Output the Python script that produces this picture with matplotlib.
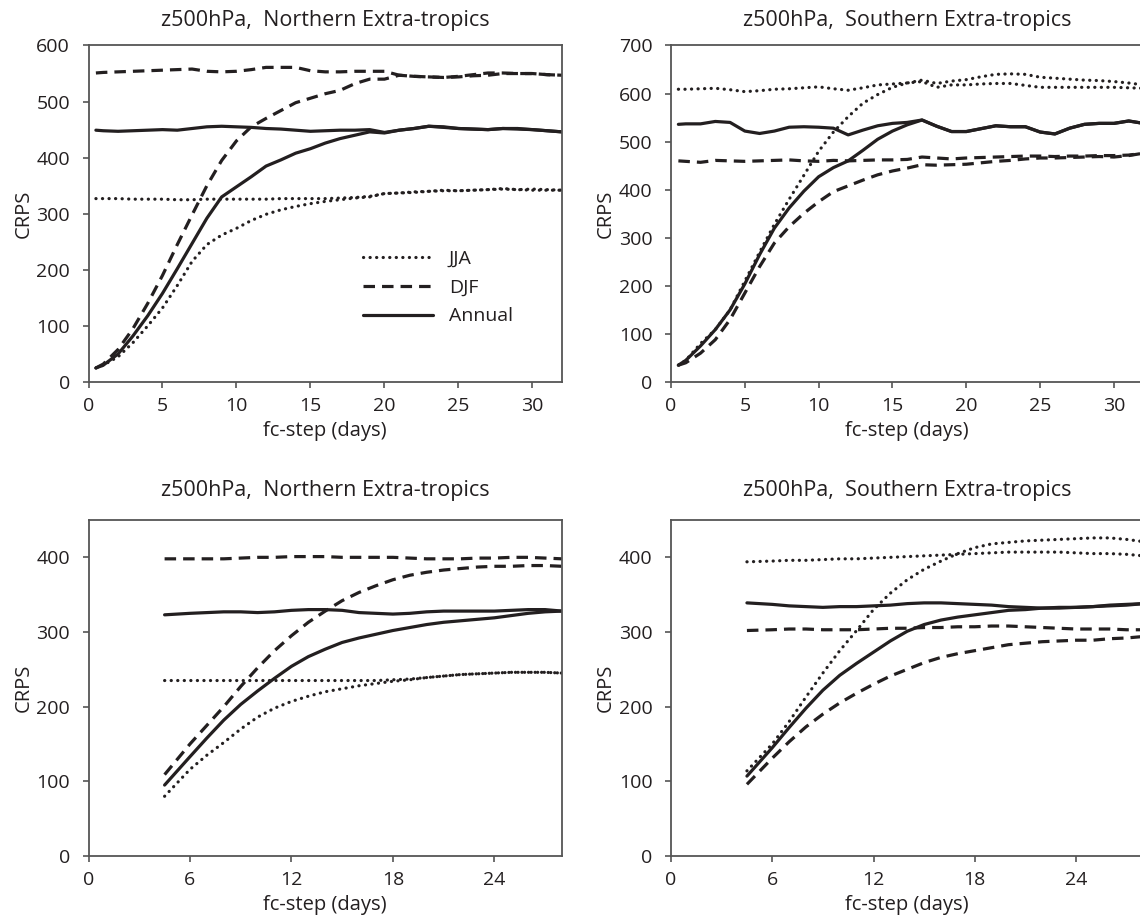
import matplotlib
matplotlib.use("Agg")
import matplotlib.pyplot as plt

plt.rcParams['font.family'] = ['Open Sans', 'DejaVu Sans']

INK = '#231f20'
AXC = '#555555'

# ---------------- top left: Northern extra-tropics (days 0.5..32)
n1_x = [0.5, 1, 2, 3, 4, 5, 6, 7, 8, 9, 10, 11, 12, 13, 14, 15, 16, 17, 18, 19, 20,
        21, 22, 23, 24, 25, 26, 27, 28, 29, 30, 31, 32]
n1_jja_flat = [327, 327, 327, 326, 326, 326, 325, 325, 326, 326, 326, 326, 326, 327, 327, 327, 327,
               328, 329, 331, 336, 337, 338, 340, 341, 341, 342, 343, 344, 343, 344, 343, 342]
n1_jja_rise = [25, 30, 45, 70, 100, 132, 172, 215, 245, 262, 274, 288, 299, 307, 313, 318, 322,
               325, 328, 330, 336, 337, 339, 340, 342, 341, 342, 343, 345, 343, 342, 342, 342]
n1_djf_flat = [551, 552, 553, 554, 555, 556, 557, 558, 554, 553, 554, 557, 561, 561, 561, 555, 553,
               553, 554, 554, 554, 547, 545, 544, 543, 545, 548, 551, 551, 550, 550, 548, 547]
n1_djf_rise = [25, 32, 58, 95, 140, 190, 245, 298, 350, 395, 430, 455, 470, 484, 498, 506, 514,
               520, 532, 540, 540, 547, 545, 544, 543, 544, 546, 547, 550, 550, 550, 548, 547]
n1_ann_flat = [449, 448, 447, 448, 449, 450, 449, 452, 455, 456, 455, 454, 452, 451, 449, 447, 448,
               449, 449, 450, 445, 449, 452, 456, 455, 452, 451, 450, 452, 452, 450, 448, 446]
n1_ann_rise = [25, 30, 50, 82, 118, 158, 202, 247, 292, 330, 348, 366, 385, 396, 408, 416, 426,
               434, 440, 446, 444, 449, 452, 456, 454, 452, 451, 450, 452, 451, 450, 448, 446]

# ---------------- top right: Southern extra-tropics (days 0.5..32)
s1_x = n1_x
s1_jja_flat = [609, 609, 610, 611, 608, 604, 606, 609, 610, 612, 614, 610, 607, 612, 618, 620, 622,
               625, 613, 618, 618, 620, 621, 621, 617, 613, 613, 613, 613, 613, 613, 612, 611]
s1_jja_rise = [35, 45, 80, 109, 150, 210, 270, 328, 380, 430, 480, 520, 552, 580, 598, 613, 622,
               628, 621, 626, 629, 635, 640, 641, 640, 634, 632, 630, 628, 627, 625, 622, 618]
s1_ann_flat = [536, 537, 537, 542, 540, 522, 517, 522, 530, 531, 530, 528, 514, 524, 533, 538, 540,
               545, 532, 521, 521, 527, 533, 531, 531, 520, 516, 528, 536, 538, 538, 543, 538]
s1_ann_rise = [35, 45, 75, 109, 150, 204, 265, 320, 362, 397, 427, 446, 460, 482, 505, 522, 535,
               545, 532, 521, 521, 527, 533, 531, 531, 520, 516, 528, 536, 538, 538, 543, 538]
s1_djf_flat = [460, 459, 457, 461, 460, 459, 460, 461, 462, 460, 459, 461, 460, 461, 462, 462, 463,
               468, 466, 464, 466, 467, 468, 469, 470, 470, 469, 470, 470, 471, 471, 472, 476]
s1_djf_rise = [35, 40, 60, 88, 130, 185, 240, 289, 323, 351, 375, 396, 408, 420, 431, 439, 445,
               452, 451, 452, 453, 456, 459, 461, 464, 466, 466, 467, 468, 469, 468, 471, 476]

# ---------------- bottom left: Northern extra-tropics (days 4.5..28)
n2_x = [4.5, 6, 7, 8, 9, 10, 11, 12, 13, 14, 15, 16, 17, 18, 19, 20, 21, 22, 23, 24, 25,
        26, 27, 28]
n2_jja_flat = [235, 235, 235, 235, 235, 235, 235, 235, 235, 235, 235, 235, 235, 236, 237, 239,
               241, 243, 244, 245, 246, 246, 246, 245]
n2_jja_rise = [80, 116, 135, 152, 170, 186, 198, 207, 214, 220, 224, 228, 231, 234, 236, 239,
               241, 243, 244, 245, 246, 246, 246, 245]
n2_djf_flat = [398, 398, 398, 398, 399, 400, 400, 401, 401, 401, 400, 400, 400, 400, 399, 398,
               398, 398, 399, 399, 400, 400, 399, 398]
n2_djf_rise = [109, 150, 175, 200, 227, 252, 275, 295, 313, 328, 342, 353, 362, 370, 376, 380,
               383, 385, 387, 388, 388, 389, 389, 388]
n2_ann_flat = [323, 325, 326, 327, 327, 326, 327, 329, 330, 330, 329, 326, 325, 324, 325, 327,
               328, 328, 328, 328, 329, 330, 330, 328]
n2_ann_rise = [95, 133, 158, 182, 203, 221, 238, 254, 267, 277, 286, 292, 297, 302, 306, 310,
               313, 315, 317, 319, 322, 325, 327, 328]

# ---------------- bottom right: Southern extra-tropics (days 4.5..28)
s2_x = n2_x
s2_jja_flat = [394, 395, 396, 396, 397, 398, 398, 399, 400, 401, 402, 403, 404, 405, 406, 407,
               407, 407, 407, 406, 405, 405, 404, 402]
s2_jja_rise = [114, 150, 180, 213, 245, 275, 302, 330, 352, 370, 384, 395, 405, 413, 418, 420,
               422, 423, 424, 425, 426, 426, 424, 421]
s2_ann_flat = [339, 337, 335, 334, 333, 334, 334, 335, 336, 338, 339, 339, 338, 337, 336, 334,
               333, 332, 332, 333, 334, 336, 337, 338]
s2_ann_rise = [107, 145, 172, 198, 222, 242, 258, 273, 288, 301, 310, 316, 320, 323, 326, 329,
               330, 332, 333, 333, 334, 335, 336, 338]
s2_djf_flat = [302, 303, 304, 304, 303, 303, 303, 304, 305, 305, 306, 306, 307, 307, 308, 308,
               307, 306, 305, 304, 304, 304, 303, 303]
s2_djf_rise = [96, 131, 153, 173, 190, 205, 218, 230, 241, 250, 259, 266, 271, 275, 279, 283,
               285, 287, 288, 289, 289, 291, 292, 294]

title_n = 'z500hPa,  Northern Extra-tropics'
title_s = 'z500hPa,  Southern Extra-tropics'

W, H = 1140, 922
fig = plt.figure(figsize=(W / 100, H / 100), dpi=100)


def box(l, r, t, b):
    return [l / W, (H - b) / H, (r - l) / W, (b - t) / H]


dot = dict(color=INK, lw=2.3, linestyle=(0, (0.05, 2.0)), dash_capstyle='round')
dash = dict(color=INK, lw=2.3, linestyle=(0, (3.6, 2.2)), dash_capstyle='butt')
solid = dict(color=INK, lw=2.3, solid_capstyle='round')


def panel(pos, x, jja, djf, ann, title, xlim, ylim, xticks, yticks, tpad):
    ax = fig.add_axes(pos)
    l1, = ax.plot(x, jja[0], **dot)
    ax.plot(x, jja[1], **dot)
    l2, = ax.plot(x, djf[0], **dash)
    ax.plot(x, djf[1], **dash)
    l3, = ax.plot(x, ann[0], **solid)
    ax.plot(x, ann[1], **solid)
    ax.set_xlim(*xlim)
    ax.set_ylim(*ylim)
    ax.set_xticks(xticks)
    ax.set_yticks(yticks)
    for s in ax.spines.values():
        s.set_color(AXC)
        s.set_linewidth(1.3)
    ax.tick_params(direction='out', length=4.3, width=1.2, color=AXC,
                   labelsize=14, labelcolor=INK)
    ax.tick_params(axis='x', pad=6.6)
    ax.tick_params(axis='y', pad=9)
    ax.set_title(title, fontsize=15.5, color=INK, pad=tpad)
    ax.set_xlabel('fc-step (days)', fontsize=14.5, color=INK, labelpad=4)
    ax.set_ylabel('CRPS', fontsize=14.5, color=INK, labelpad=2)
    return ax, (l1, l2, l3)


ax1, hs = panel(box(88.5, 562, 45.5, 382), n1_x, (n1_jja_flat, n1_jja_rise),
                (n1_djf_flat, n1_djf_rise), (n1_ann_flat, n1_ann_rise), title_n,
                (0, 32), (0, 600), range(0, 31, 5), range(0, 601, 100), 14)
ax2, _ = panel(box(671, 1143.5, 45.5, 382), s1_x, (s1_jja_flat, s1_jja_rise),
               (s1_djf_flat, s1_djf_rise), (s1_ann_flat, s1_ann_rise), title_s,
               (0, 32), (0, 700), range(0, 31, 5), range(0, 701, 100), 14)
ax3, _ = panel(box(88.5, 562, 520, 856), n2_x, (n2_jja_flat, n2_jja_rise),
               (n2_djf_flat, n2_djf_rise), (n2_ann_flat, n2_ann_rise), title_n,
               (0, 28), (0, 450), range(0, 25, 6), range(0, 401, 100), 17.5)
ax4, _ = panel(box(671, 1143.5, 520, 856), s2_x, (s2_jja_flat, s2_jja_rise),
               (s2_djf_flat, s2_djf_rise), (s2_ann_flat, s2_ann_rise), title_s,
               (0, 28), (0, 450), range(0, 25, 6), range(0, 401, 100), 17.5)

ax1.legend(hs, ['JJA', 'DJF', 'Annual'], loc='center left', bbox_to_anchor=(0.58, 0.28),
           frameon=False, fontsize=14, handlelength=3.6, handletextpad=0.8,
           labelspacing=0.55, borderpad=0, borderaxespad=0, labelcolor=INK)

fig.savefig('out.png', dpi=100)
